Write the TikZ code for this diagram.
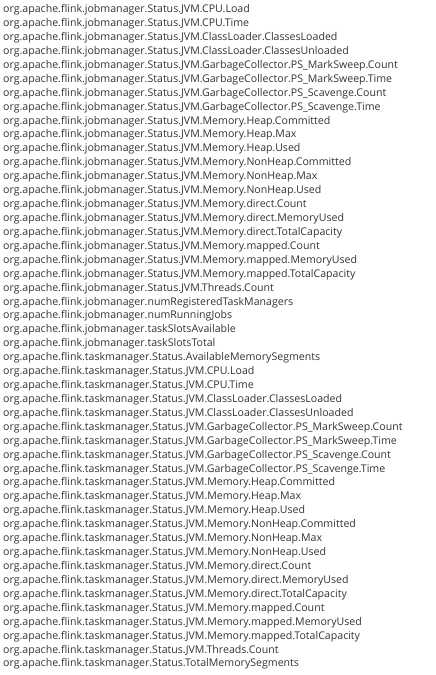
\documentclass[tikz,border=0pt]{standalone}
\usepackage{fontspec}
\setmainfont{Open Sans}
\definecolor{txt}{HTML}{333333}
\begin{document}
\begin{tikzpicture}[x=1pt,y=1pt,
  entry/.style={anchor=base west,inner sep=0pt,text=txt,font=\fontsize{10.6}{12}\selectfont}]
\useasboundingbox (0,0) rectangle (436,675);
\def\J{org.apache.flink.jobmanager.Status.JVM.}
\def\T{org.apache.flink.taskmanager.Status.JVM.}
\foreach \t [count=\i] in {
\J CPU.Load,\J CPU.Time,\J ClassLoader.ClassesLoaded,\J ClassLoader.ClassesUnloaded,
\J GarbageCollector.PS\_MarkSweep.Count,\J GarbageCollector.PS\_MarkSweep.Time,
\J GarbageCollector.PS\_Scavenge.Count,\J GarbageCollector.PS\_Scavenge.Time,
\J Memory.Heap.Committed,\J Memory.Heap.Max,\J Memory.Heap.Used,
\J Memory.NonHeap.Committed,\J Memory.NonHeap.Max,\J Memory.NonHeap.Used,
\J Memory.direct.Count,\J Memory.direct.MemoryUsed,\J Memory.direct.TotalCapacity,
\J Memory.mapped.Count,\J Memory.mapped.MemoryUsed,\J Memory.mapped.TotalCapacity,
\J Threads.Count,
org.apache.flink.jobmanager.numRegisteredTaskManagers,
org.apache.flink.jobmanager.numRunningJobs,
org.apache.flink.jobmanager.taskSlotsAvailable,
org.apache.flink.jobmanager.taskSlotsTotal,
org.apache.flink.taskmanager.Status.AvailableMemorySegments,
\T CPU.Load,\T CPU.Time,\T ClassLoader.ClassesLoaded,\T ClassLoader.ClassesUnloaded,
\T GarbageCollector.PS\_MarkSweep.Count,\T GarbageCollector.PS\_MarkSweep.Time,
\T GarbageCollector.PS\_Scavenge.Count,\T GarbageCollector.PS\_Scavenge.Time,
\T Memory.Heap.Committed,\T Memory.Heap.Max,\T Memory.Heap.Used,
\T Memory.NonHeap.Committed,\T Memory.NonHeap.Max,\T Memory.NonHeap.Used,
\T Memory.direct.Count,\T Memory.direct.MemoryUsed,\T Memory.direct.TotalCapacity,
\T Memory.mapped.Count,\T Memory.mapped.MemoryUsed,\T Memory.mapped.TotalCapacity,
\T Threads.Count,
org.apache.flink.taskmanager.Status.TotalMemorySegments}
  \node[entry] (l\i) at (3,{675-12.7-13.92*(\i-1)}) {\t};
\end{tikzpicture}
\end{document}
